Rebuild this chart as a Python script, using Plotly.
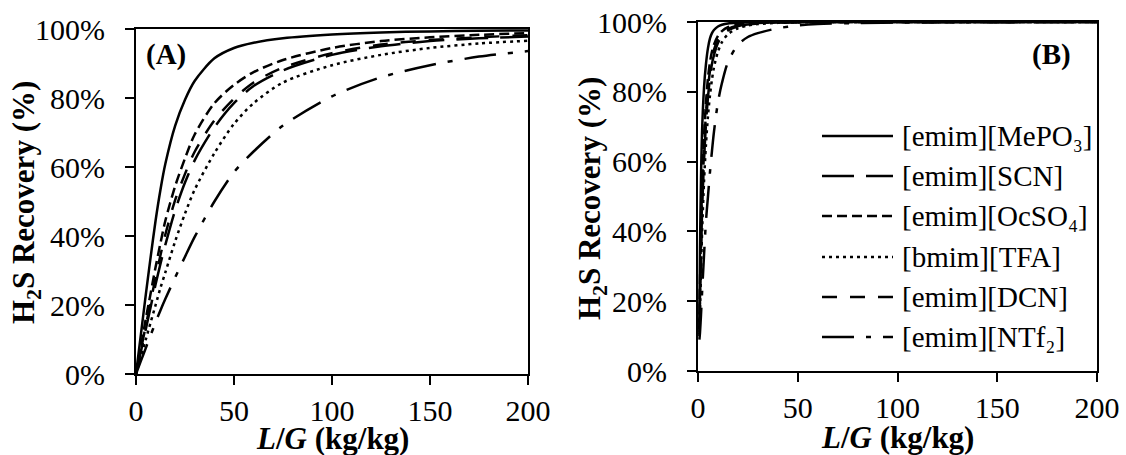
import plotly.graph_objects as go

# ---------------- data ----------------
LG_A = [0, 2.5, 5, 7.5, 10, 12.5, 15, 20, 25, 30, 40, 50, 60, 75, 100, 125, 150, 175, 200]
A_MePO3 = [0, 11.5, 23, 34, 44.5, 53.5, 61, 72, 79.5, 85, 91.5, 94.5, 96, 97.3, 98.4, 99.0, 99.3, 99.5, 99.6]
A_SCN = [0, 6.5, 13, 19.5, 26, 32, 37.5, 47.5, 55.5, 62, 71.5, 78.5, 83.5, 88, 92.5, 95, 96.5, 97.3, 97.8]
A_OcSO4 = [0, 8, 16, 23.5, 31, 38, 44.5, 54.5, 62.5, 69.5, 78.5, 83.8, 87.5, 91, 94.5, 96.5, 97.6, 98.3, 98.8]
A_TFA = [0, 5, 10, 15, 20, 25, 29.5, 38.5, 46.5, 53.5, 64, 72.5, 78.5, 84.5, 89.5, 92.5, 94.5, 95.8, 96.6]
A_DCN = [0, 7, 14, 21, 28, 34.5, 40.5, 50.5, 58, 64.5, 73.5, 79.8, 84.5, 88.8, 93, 95.5, 96.8, 97.6, 98.2]
A_NTf2 = [0, 3.8, 7.5, 11.3, 15, 18.5, 21.8, 28, 34, 39.8, 50, 58.5, 64.5, 72, 80.5, 86, 89.5, 92, 93.6]

LG_B = [0.7, 1, 1.5, 2, 3, 4, 5, 6, 7, 8, 10, 12, 15, 20, 25, 30, 40, 50, 60, 80, 100, 150, 200]
B_MePO3 = [14, 35, 55, 68, 81, 88, 92.5, 95.3, 96.8, 97.7, 98.7, 99.2, 99.6, 99.8, 99.9, 99.95, 100, 100, 100, 100, 100, 100, 100]
B_SCN = [10.5, 20, 33, 45, 60, 71, 78.5, 84, 88, 90.5, 94, 96, 97.6, 98.8, 99.3, 99.6, 99.85, 99.95, 100, 100, 100, 100, 100]
B_OcSO4 = [12, 25, 40, 52, 67, 77, 84, 88.5, 91.5, 93.5, 96, 97.4, 98.5, 99.3, 99.6, 99.8, 99.9, 99.95, 100, 100, 100, 100, 100]
B_TFA = [10, 17, 28, 39, 54, 65, 73, 79, 83.5, 87, 91.5, 94.2, 96.5, 98.2, 99, 99.4, 99.75, 99.9, 99.95, 100, 100, 100, 100]
B_DCN = [11, 22, 36, 48, 63, 74, 81, 86, 89.5, 92, 95, 96.7, 98, 99, 99.5, 99.7, 99.9, 99.95, 100, 100, 100, 100, 100]
B_NTf2 = [9, 11, 16, 22, 33, 43, 50, 57, 63, 68.5, 77, 82.5, 88.5, 93.5, 95.7, 96.8, 98.2, 99, 99.4, 99.7, 99.85, 99.95, 100]

NAMES = ["[emim][MePO₃]", "[emim][SCN]", "[emim][OcSO₄]", "[bmim][TFA]", "[emim][DCN]", "[emim][NTf₂]"]
DASHES = ["solid", "32px,12px", "10px,5px", "3px,4px", "15px,13px", "32px,12px,5px,12px"]
X_TICKS = [0, 50, 100, 150, 200]
Y_TICKS = [0, 20, 40, 60, 80, 100]
Y_TICK_TEXT = ["0%", "20%", "40%", "60%", "80%", "100%"]

SERIES_A = [A_MePO3, A_SCN, A_OcSO4, A_TFA, A_DCN, A_NTf2]
SERIES_B = [B_MePO3, B_SCN, B_OcSO4, B_TFA, B_DCN, B_NTf2]

W, H = 1126, 455
FONT = "Liberation Serif"


def px(x):
    return x / W


def py(y):
    return 1 - y / H


fig = go.Figure()
for name, dash, ya in zip(NAMES, DASHES, SERIES_A):
    fig.add_trace(go.Scatter(x=LG_A, y=ya, name=name, mode="lines", xaxis="x", yaxis="y",
                             line=dict(color="black", width=2.5, dash=dash, shape="spline", smoothing=0.8),
                             showlegend=False))
for name, dash, yb in zip(NAMES, DASHES, SERIES_B):
    fig.add_trace(go.Scatter(x=LG_B, y=yb, name=name, mode="lines", xaxis="x2", yaxis="y2",
                             line=dict(color="black", width=2.5, dash=dash, shape="spline", smoothing=0.8),
                             showlegend=False))

axis_common = dict(showline=True, linecolor="black", linewidth=2, mirror=True, ticks="outside",
                   ticklen=9, tickwidth=2, tickcolor="black", showgrid=False, zeroline=False,
                   automargin=False, tickfont=dict(family=FONT, size=30, color="black"))

fig.update_layout(
    width=W, height=H, margin=dict(l=0, r=0, t=0, b=0, pad=0, autoexpand=False),
    paper_bgcolor="white", plot_bgcolor="white",
    xaxis=dict(domain=[px(136), px(528)], range=[0, 200], tickvals=X_TICKS, anchor="y",
               ticklabelstandoff=0, **axis_common),
    yaxis=dict(domain=[py(374), py(29)], range=[0, 100], tickvals=Y_TICKS, ticktext=Y_TICK_TEXT,
               anchor="x", ticklabelstandoff=14, **axis_common),
    xaxis2=dict(domain=[px(698), px(1097)], range=[0, 200], tickvals=X_TICKS, anchor="y2",
                ticklabelstandoff=0, **axis_common),
    yaxis2=dict(domain=[py(371), py(22)], range=[0, 100], tickvals=Y_TICKS, ticktext=Y_TICK_TEXT,
                anchor="x2", ticklabelstandoff=14, **axis_common),
)

ann = []
title_font = dict(family=FONT, size=31, color="black")


def centered(text, cx, cy, size=31, **kw):
    return dict(text=text, x=px(cx), y=py(cy), xref="paper", yref="paper", xanchor="center",
                yanchor="middle", showarrow=False,
                font=dict(family=FONT, size=size, color="black"), **kw)


ann.append(centered("<b>(A)</b>", 166, 54, size=29))
ann.append(centered("<b>(B)</b>", 1051, 54, size=29))
for cx, cy in [(26, 203), (592, 199)]:
    ann.append(centered("<b>H<sub>2</sub>S Recovery (%)</b>", cx, cy, textangle=-90))
for cx, cy in [(332, 438), (897, 437)]:
    ann.append(centered("<b><i>L</i>/<i>G</i> (kg/kg)</b>", cx, cy))

# manual legend (long keys like the original)
shapes = []
rows = [136, 176, 216, 257, 297, 337]
for name, dash, ry in zip(NAMES, DASHES, rows):
    shapes.append(dict(type="line", xref="paper", yref="paper", x0=px(822), x1=px(893),
                       y0=py(ry), y1=py(ry), line=dict(color="black", width=2.5, dash=dash)))
    ann.append(dict(text=name, x=px(900), y=py(ry), xref="paper", yref="paper", xanchor="left",
                    yanchor="middle", showarrow=False, font=dict(family=FONT, size=29, color="black")))

fig.update_layout(annotations=ann, shapes=shapes)
fig.write_html("out.html", config={"displayModeBar": False},
               post_script="document.body.style.margin='0px';")
